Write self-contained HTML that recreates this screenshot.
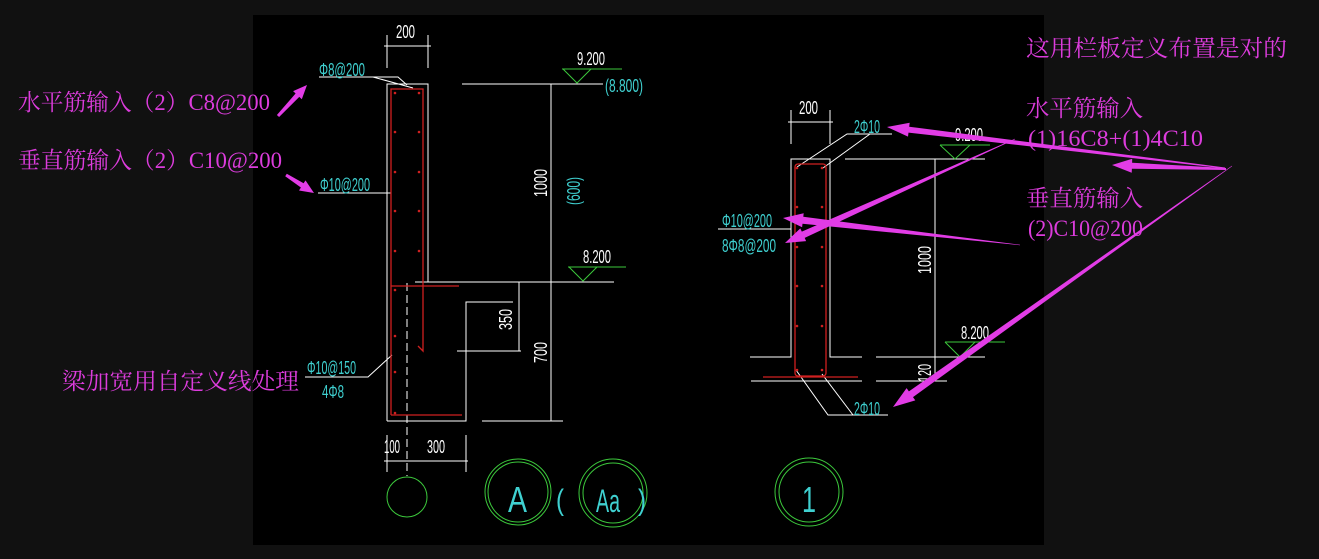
<!DOCTYPE html>
<html><head><meta charset="utf-8">
<style>
html,body{margin:0;padding:0;background:#111;}
body{width:1319px;height:559px;overflow:hidden;position:relative;}
svg{position:absolute;left:0;top:0;}
.cad{font-family:"Liberation Sans Narrow","Liberation Sans",sans-serif;font-size:18px;}
.mg{font-family:"Liberation Serif","Noto Serif CJK SC","Noto Sans CJK SC",serif;fill:#dc3cdc;font-size:23px;}
</style></head>
<body>
<svg id="s" width="1319" height="559" viewBox="0 0 1319 559">
<rect x="0" y="0" width="1319" height="559" fill="#111"/>
<rect x="253" y="15" width="791" height="530" fill="#000"/>

<g stroke="#fff" stroke-width="1" fill="none">
<polyline points="387,421 387,84 428,84 428,282"/>
<line x1="415" y1="282" x2="614" y2="282"/>
<line x1="462" y1="84" x2="603" y2="84"/>
<line x1="551" y1="84" x2="551" y2="421"/>
<polyline points="387,421 466,421 466,302 513,302"/>
<line x1="457" y1="351" x2="521" y2="351"/>
<line x1="519" y1="282" x2="519" y2="351"/>
<line x1="482" y1="421" x2="563" y2="421"/>
<line x1="387" y1="35" x2="387" y2="68"/><line x1="428" y1="35" x2="428" y2="68"/>
<line x1="384" y1="46" x2="431" y2="46"/>
<polyline points="319,77 398,77 407,85"/><line x1="373" y1="77" x2="413" y2="88"/>
<line x1="318" y1="193" x2="391" y2="193"/>
<polyline points="305,377 368,377 392,355"/>
<line x1="407" y1="283" x2="407" y2="476" stroke-dasharray="8,4"/>
<line x1="384" y1="461" x2="468" y2="461"/>
<line x1="387" y1="435" x2="387" y2="472"/><line x1="466" y1="435" x2="466" y2="472"/>
<polyline points="750,357 791,357 791,159 830,159 830,357 862,357"/>
<line x1="876" y1="357" x2="985" y2="357"/>
<line x1="751" y1="381" x2="862" y2="381"/><line x1="876" y1="381" x2="947" y2="381"/>
<line x1="845" y1="159" x2="985" y2="159"/>
<line x1="935" y1="159" x2="935" y2="381"/>
<line x1="791" y1="110" x2="791" y2="144"/><line x1="830" y1="110" x2="830" y2="144"/>
<line x1="788" y1="122" x2="833" y2="122"/>
<polyline points="797,167 847,134 892,134"/><line x1="823" y1="168" x2="870" y2="134"/>
<line x1="718" y1="229" x2="791" y2="229"/>
<polyline points="796,370 828,415 888,415"/><line x1="822" y1="374" x2="853" y2="415"/>
</g>

<g stroke="#d02020" stroke-width="1.3" fill="none">
<polyline points="391,415 391,89 423,89 423,351 418,346"/>
<line x1="391" y1="286" x2="459" y2="286"/>
<line x1="391" y1="415" x2="462" y2="415"/>
<rect x="795" y="164" width="31" height="212" rx="3"/>
<line x1="763" y1="377" x2="858" y2="377"/>
</g>
<g fill="#d02020" id="dots"></g>

<g stroke="#3cc83c" stroke-width="1" fill="none">
<line x1="562" y1="69" x2="622" y2="69"/><polyline points="563,69 577,83 591,69"/>
<line x1="568" y1="267" x2="626" y2="267"/><polyline points="569,267 583,281 597,267"/>
<line x1="940" y1="145" x2="990" y2="145"/><polyline points="940,145 955,159 970,145"/>
<line x1="945" y1="342" x2="1005" y2="342"/><polyline points="945,342 960,357 975,342"/>
<circle cx="407" cy="497" r="20"/>
<circle cx="518" cy="492" r="33"/><circle cx="518" cy="492" r="30"/>
<circle cx="613" cy="493" r="34"/><circle cx="613" cy="493" r="30"/>
<circle cx="809" cy="492" r="34"/><circle cx="809" cy="492" r="30"/>
</g>

<g class="cad" fill="#fff">
<text x="396" y="38" textLength="19" lengthAdjust="spacingAndGlyphs">200</text>
<text x="577" y="65" textLength="28" lengthAdjust="spacingAndGlyphs">9.200</text>
<text x="583" y="263" textLength="28" lengthAdjust="spacingAndGlyphs">8.200</text>
<text x="384" y="453" textLength="16" lengthAdjust="spacingAndGlyphs">100</text>
<text x="427" y="453" textLength="18" lengthAdjust="spacingAndGlyphs">300</text>
<text x="799" y="114" textLength="19" lengthAdjust="spacingAndGlyphs">200</text>
<text x="955" y="141" textLength="28" lengthAdjust="spacingAndGlyphs">9.200</text>
<text x="961" y="339" textLength="28" lengthAdjust="spacingAndGlyphs">8.200</text>
<text transform="translate(547,197) rotate(-90)" textLength="28" lengthAdjust="spacingAndGlyphs">1000</text>
<text transform="translate(512,330) rotate(-90)" textLength="21" lengthAdjust="spacingAndGlyphs">350</text>
<text transform="translate(547,363) rotate(-90)" textLength="21" lengthAdjust="spacingAndGlyphs">700</text>
<text transform="translate(931,274) rotate(-90)" textLength="28" lengthAdjust="spacingAndGlyphs">1000</text>
<text transform="translate(931,382) rotate(-90)" textLength="18" lengthAdjust="spacingAndGlyphs">120</text>
</g>
<g class="cad" fill="#3fd0d0">
<text x="319" y="76" textLength="46" lengthAdjust="spacingAndGlyphs">Φ8@200</text>
<text x="320" y="191" textLength="50" lengthAdjust="spacingAndGlyphs">Φ10@200</text>
<text x="605" y="92" textLength="38" lengthAdjust="spacingAndGlyphs">(8.800)</text>
<text transform="translate(580,205) rotate(-90)" textLength="28" lengthAdjust="spacingAndGlyphs">(600)</text>
<text x="307" y="374" textLength="49" lengthAdjust="spacingAndGlyphs">Φ10@150</text>
<text x="322" y="398" textLength="22" lengthAdjust="spacingAndGlyphs">4Φ8</text>
<text x="854" y="133" textLength="26" lengthAdjust="spacingAndGlyphs">2Φ10</text>
<text x="722" y="227" textLength="50" lengthAdjust="spacingAndGlyphs">Φ10@200</text>
<text x="722" y="252" textLength="54" lengthAdjust="spacingAndGlyphs">8Φ8@200</text>
<text x="854" y="415" textLength="26" lengthAdjust="spacingAndGlyphs">2Φ10</text>
<text x="508" y="512" font-size="36" textLength="19" lengthAdjust="spacingAndGlyphs" font-family="Liberation Sans">A</text>
<text x="556" y="510" font-size="30" textLength="8" lengthAdjust="spacingAndGlyphs" font-family="Liberation Sans">(</text>
<text x="596" y="512" font-size="32" textLength="24" lengthAdjust="spacingAndGlyphs" font-family="Liberation Sans">Aa</text>
<text x="638" y="510" font-size="30" textLength="8" lengthAdjust="spacingAndGlyphs" font-family="Liberation Sans">)</text>
<text x="802" y="512" font-size="36" textLength="14" lengthAdjust="spacingAndGlyphs" font-family="Liberation Sans">1</text>
</g>

<g class="mg">
<text x="18" y="110" textLength="252" lengthAdjust="spacingAndGlyphs">水平筋输入（2）C8@200</text>
<text x="18" y="168" textLength="264" lengthAdjust="spacingAndGlyphs">垂直筋输入（2）C10@200</text>
<text x="62" y="389" textLength="237" lengthAdjust="spacingAndGlyphs">梁加宽用自定义线处理</text>
<text x="1026" y="56" textLength="261" lengthAdjust="spacingAndGlyphs">这用栏板定义布置是对的</text>
<text x="1026" y="116" textLength="117" lengthAdjust="spacingAndGlyphs">水平筋输入</text>
<text x="1028" y="146" textLength="175" lengthAdjust="spacingAndGlyphs">(1)16C8+(1)4C10</text>
<text x="1026" y="206" textLength="117" lengthAdjust="spacingAndGlyphs">垂直筋输入</text>
<text x="1028" y="236" textLength="115" lengthAdjust="spacingAndGlyphs">(2)C10@200</text>
</g>
<g id="arrows" fill="#e23ce6"></g>
</svg>
<script>
var NS="http://www.w3.org/2000/svg";
var d=document.getElementById("dots");
function dot(x,y){var c=document.createElementNS(NS,"circle");c.setAttribute("cx",x);c.setAttribute("cy",y);c.setAttribute("r",1.3);d.appendChild(c);}
[93,132,172,211,251].forEach(function(y){dot(395,y);dot(419,y);});
[290,336,372,413].forEach(function(y){dot(395,y);});
[168,207,247,286,326,370].forEach(function(y){dot(797,y);dot(822,y);});
var a=document.getElementById("arrows");
function arr(tx,ty,hx,hy,w0,w1,hw,hl){
 var dx=hx-tx,dy=hy-ty,L=Math.sqrt(dx*dx+dy*dy),ux=dx/L,uy=dy/L,nx=-uy,ny=ux;
 var bx=hx-ux*hl,by=hy-uy*hl;
 var p=[[tx+nx*w0/2,ty+ny*w0/2],[bx+nx*w1/2,by+ny*w1/2],[bx+nx*hw/2,by+ny*hw/2],[hx,hy],[bx-nx*hw/2,by-ny*hw/2],[bx-nx*w1/2,by-ny*w1/2],[tx-nx*w0/2,ty-ny*w0/2]];
 var pg=document.createElementNS(NS,"polygon");pg.setAttribute("points",p.map(function(q){return q[0].toFixed(1)+","+q[1].toFixed(1)}).join(" "));a.appendChild(pg);
}
arr(1225,168,887,127,1,6,14,22);
arr(1226,169,1112,165,2,6,14,20);
arr(1232,166,893,407,0.5,7,15,22);
arr(1020,245,783,218,0.5,7,14,20);
arr(1015,139,785,243,0.5,7,14,20);
arr(278,116,307,85,3,5,12,14);
arr(286,175,314,193,3,5,12,14);
</script>
</body></html>
